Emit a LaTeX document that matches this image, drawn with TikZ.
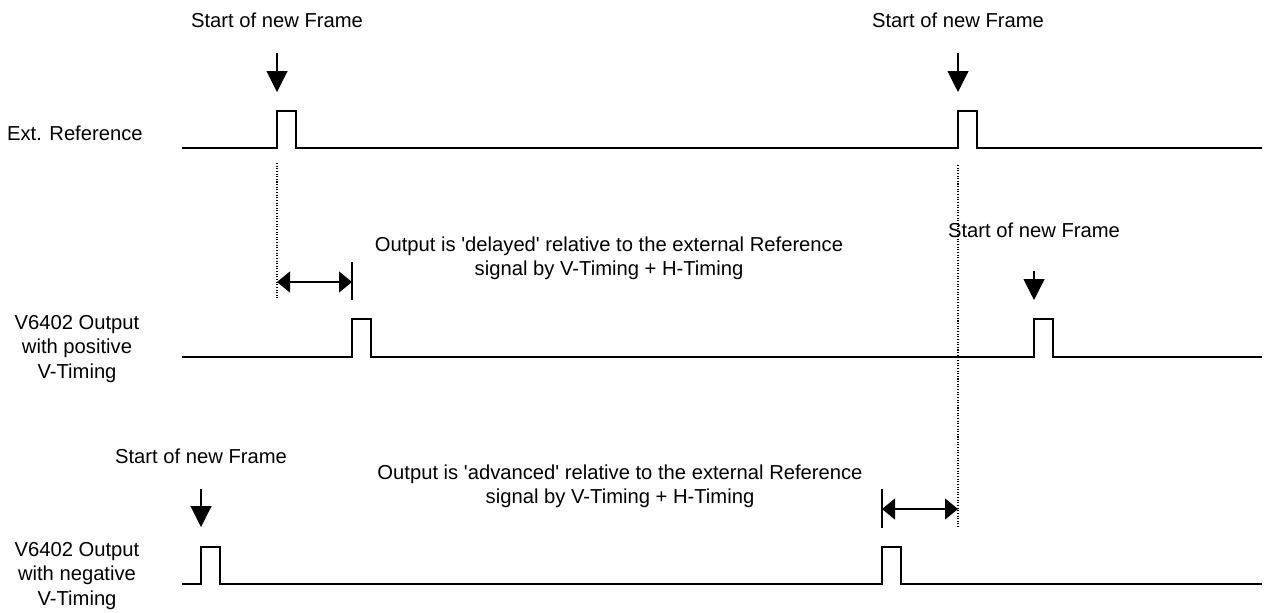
\documentclass[tikz,border=0pt]{standalone}
\usepackage{fontspec}
\setmainfont{Liberation Sans}
\usetikzlibrary{arrows.meta}

\begin{document}
\begin{tikzpicture}[x=0.02cm,y=-0.02cm,font=\fontsize{11.5}{13.8}\selectfont]
		\tikzset{signal/.style={line width=1.1pt,line join=miter}};
		\tikzset{framearrow/.style={-{Triangle[width=0.42cm,length=0.42cm]},line width=0.6pt}};
		\tikzset{shiftarrow/.style={{Triangle[width=0.42cm,length=0.26cm]}-{Triangle[width=0.42cm,length=0.26cm]},line width=0.6pt}};
		\tikzset{marker/.style={dash pattern=on 0.6pt off 0.9pt,line width=0.6pt}};
		\useasboundingbox (0,0) rectangle (1266,612);

		% the three signals
		\draw[signal] (182,148) -| (277,111) -| (296,148) -| (958,111) -| (977,148) -- (1262,148);
		\draw[signal] (182,357) -| (352,319) -| (371,357) -| (1034,319) -| (1053,357) -- (1262,357);
		\draw[signal] (182,584) -| (201,547) -| (220,584) -| (882,547) -| (901,584) -- (1262,584);

		\node[anchor=east,inner sep=0pt] (extref) at (143,133) {Ext. Reference};
		\node[align=center] (posout) at (77,349) {V6402 Output\\with positive\\V-Timing};
		\node[align=center] (negout) at (77,576) {V6402 Output\\with negative\\V-Timing};

		% frame starts
		\foreach \n/\x/\t/\s/\e in {a/277/20/53/92, b/958/20/53/92, c/1034/230/271/300, d/201/456/489/527}
		{
			\node (frame\n) at (\x,\t) {Start of new Frame};
			\coordinate (from\n) at (\x,\s);
			\coordinate (to\n) at (\x,\e);
			\draw[framearrow] (from\n) -- (to\n);
		}

		% delay
		\coordinate (refa) at (277,163);
		\coordinate (refb) at (277,300);
		\coordinate (posa) at (352,262);
		\coordinate (posb) at (352,300);
		\draw[marker] (refa) -- (refb);
		\draw[line width=0.6pt] (posa) -- (posb);
		\draw[shiftarrow] (277,282) coordinate (dla) -- (352,282) coordinate (dlb);
		\node[align=center] (delayed) at (609,258) {Output is \textquotesingle delayed\textquotesingle{} relative to the external Reference\\signal by V-Timing + H-Timing};

		% advance
		\coordinate (refc) at (958,165);
		\coordinate (refd) at (958,527);
		\coordinate (nega) at (882,489);
		\coordinate (negb) at (882,528);
		\draw[marker] (refc) -- (refd);
		\draw[line width=0.6pt] (nega) -- (negb);
		\draw[shiftarrow] (882,509) coordinate (ada) -- (958,509) coordinate (adb);
		\node[align=center] (advanced) at (620,486) {Output is \textquotesingle advanced\textquotesingle{} relative to the external Reference\\signal by V-Timing + H-Timing};
\end{tikzpicture}
\end{document}
